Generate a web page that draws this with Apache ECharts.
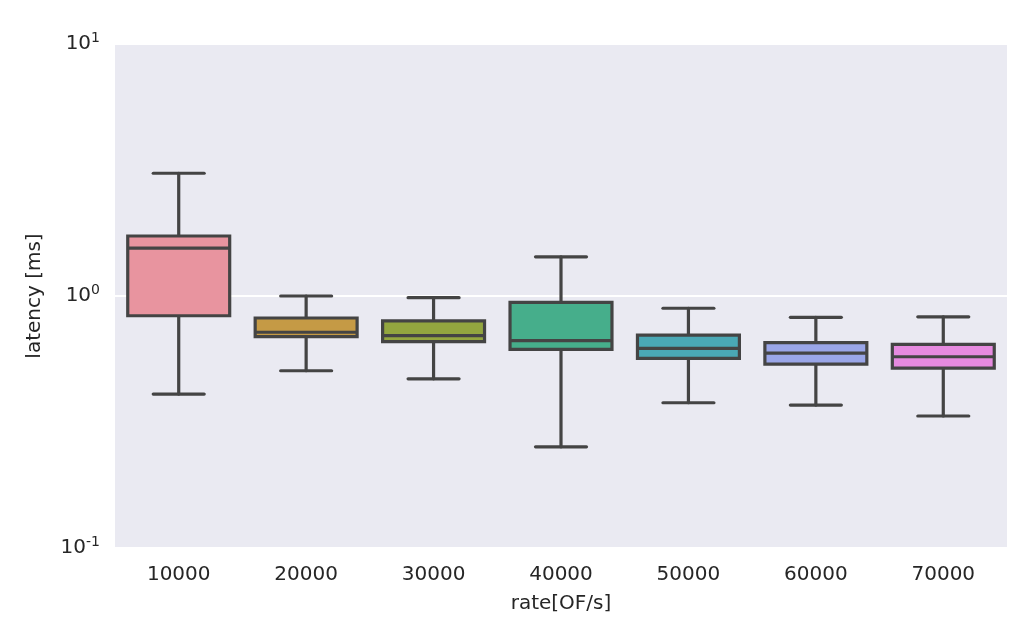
<!DOCTYPE html>
<html>
<head>
<meta charset="utf-8">
<script src="https://cdn.jsdelivr.net/npm/echarts@6/dist/echarts.min.js"></script>
<style>
  html, body { margin: 0; padding: 0; background: #fff; }
  #main { width: 1035px; height: 640px; }
</style>
</head>
<body>
<div id="main"></div>
<script>
// categories on the x axis
var rates = ['10000', '20000', '30000', '40000', '50000', '60000', '70000'];
// box statistics per rate (ms)
var whiskerLow  = [0.408, 0.505, 0.469, 0.252, 0.377, 0.369, 0.334];
var q1          = [0.835, 0.690, 0.659, 0.614, 0.566, 0.537, 0.517];
var median      = [1.55,  0.718, 0.696, 0.665, 0.620, 0.593, 0.574];
var q3          = [1.73,  0.818, 0.796, 0.944, 0.700, 0.653, 0.643];
var whiskerHigh = [3.07,  1.00,  0.985, 1.43,  0.894, 0.823, 0.827];
var boxColors = ['#e8949f', '#c59a45', '#93a63f', '#46ae8b', '#4aa8b5', '#9aa6e8', '#e68adf'];

var edge = '#444444';
var lw = 3.2;
var data = rates.map(function (r, i) {
  return [i, whiskerLow[i], q1[i], median[i], q3[i], whiskerHigh[i]];
});

function renderBox(params, api) {
  var i = api.value(0);
  var band = api.size([1, 0])[0];
  var half = band * 0.4;
  var cap = half / 2;
  var lo = api.coord([i, api.value(1)]);
  var b1 = api.coord([i, api.value(2)]);
  var md = api.coord([i, api.value(3)]);
  var b3 = api.coord([i, api.value(4)]);
  var hi = api.coord([i, api.value(5)]);
  var x = lo[0];
  var ls = { stroke: edge, lineWidth: lw, lineCap: 'round' };
  return {
    type: 'group',
    children: [
      { type: 'line', shape: { x1: x, y1: hi[1], x2: x, y2: b3[1] }, style: ls },
      { type: 'line', shape: { x1: x, y1: b1[1], x2: x, y2: lo[1] }, style: ls },
      { type: 'line', shape: { x1: x - cap, y1: hi[1], x2: x + cap, y2: hi[1] }, style: ls },
      { type: 'line', shape: { x1: x - cap, y1: lo[1], x2: x + cap, y2: lo[1] }, style: ls },
      { type: 'rect', shape: { x: x - half, y: b3[1], width: 2 * half, height: b1[1] - b3[1] },
        style: { fill: boxColors[i], stroke: edge, lineWidth: lw } },
      { type: 'line', shape: { x1: x - half, y1: md[1], x2: x + half, y2: md[1] }, style: { stroke: edge, lineWidth: lw } }
    ]
  };
}

var chart = echarts.init(document.getElementById('main'), null, { renderer: 'canvas' });
chart.setOption({
  backgroundColor: '#ffffff',
  textStyle: { fontFamily: 'DejaVu Sans' },
  grid: { left: 115, right: 28, top: 44, bottom: 92, show: true, backgroundColor: '#eaeaf2', borderWidth: 0 },
  xAxis: {
    type: 'category',
    data: rates,
    name: 'rate[OF/s]',
    nameLocation: 'middle',
    nameGap: 46,
    nameTextStyle: { fontSize: 20, color: '#262626' },
    axisLine: { show: false },
    axisTick: { show: false },
    splitLine: { show: false },
    axisLabel: { fontSize: 20, color: '#262626', margin: 17 }
  },
  yAxis: {
    type: 'log',
    logBase: 10,
    min: 0.1,
    max: 10,
    name: 'latency [ms]',
    nameLocation: 'middle',
    nameGap: 70,
    nameTextStyle: { fontSize: 20, color: '#262626' },
    axisLine: { show: false },
    axisTick: { show: false },
    splitLine: { show: true, lineStyle: { color: '#ffffff', width: 1.8 } },
    minorSplitLine: { show: false },
    axisLabel: {
      margin: 15,
      fontSize: 20,
      color: '#262626',
      formatter: function (v) {
        var e = Math.round(Math.log(v) / Math.LN10);
        return '{b|10}{e|' + e + '}';
      },
      rich: {
        b: { fontSize: 20, color: '#262626', fontFamily: 'DejaVu Sans' },
        e: { fontSize: 14, color: '#262626', fontFamily: 'DejaVu Sans', verticalAlign: 'top', padding: [0, 0, 12, 0] }
      }
    }
  },
  series: [{
    type: 'custom',
    renderItem: renderBox,
    encode: { x: 0, y: [1, 2, 3, 4, 5] },
    data: data,
    clip: false
  }]
});
</script>
</body>
</html>
